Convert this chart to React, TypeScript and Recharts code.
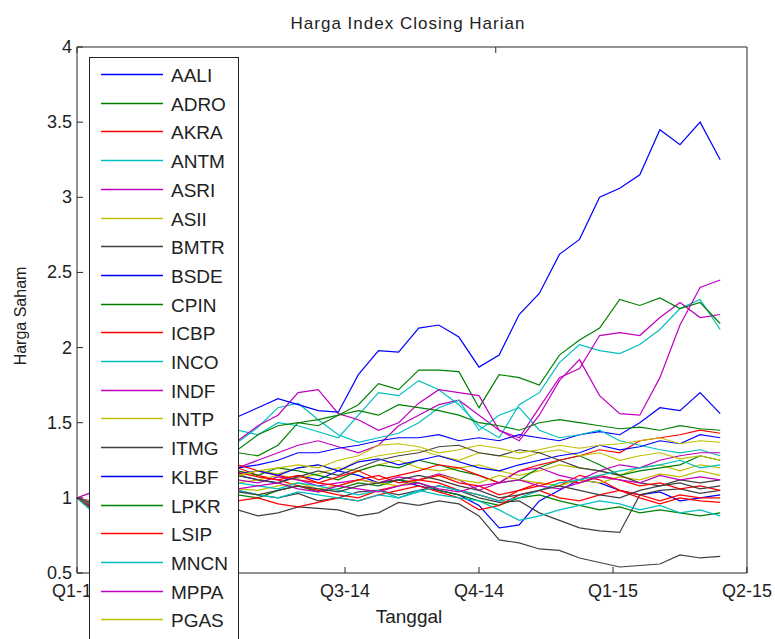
import { LineChart, Line, XAxis, YAxis } from 'recharts'

// trading-day index (quarter = 20 units), sampled every 3 units
const xDays = [0, 3, 6, 9, 12, 15, 18, 21, 24, 27, 30, 33, 36, 39, 42, 45, 48, 51, 54, 57, 60, 63, 66, 69, 72, 75, 78, 81, 84, 87, 90, 93, 96]
const quarterTicks = [0, 20, 40, 60, 80, 100]
// Q2-14 sits under the legend box in the original, so no text is drawn for it
const quarterLabels = ['Q1-14', '', 'Q3-14', 'Q4-14', 'Q1-15', 'Q2-15']
const priceTicks = [0.5, 1, 1.5, 2, 2.5, 3, 3.5, 4]

const AALI = [1.00, 0.90, 0.98, 1.04, 1.08, 1.12, 1.14, 1.15, 1.15, 1.12, 1.10, 1.15, 1.12, 1.18, 1.15, 1.10, 1.12, 1.08, 1.05, 1.02, 0.95, 0.80, 0.82, 0.98, 1.05, 1.12, 1.10, 1.05, 1.02, 1.04, 0.98, 1.00, 1.02]
const ADRO = [1.00, 0.92, 0.96, 1.00, 1.04, 1.06, 1.05, 1.04, 1.02, 1.00, 1.05, 1.08, 1.04, 1.06, 1.10, 1.08, 1.12, 1.10, 1.05, 1.02, 0.98, 0.95, 1.00, 1.02, 0.98, 0.95, 0.92, 0.94, 0.90, 0.92, 0.90, 0.88, 0.90]
const AKRA = [1.00, 0.92, 0.98, 1.05, 1.10, 1.14, 1.16, 1.18, 1.20, 1.15, 1.12, 1.08, 1.05, 1.02, 1.00, 1.05, 1.08, 1.12, 1.10, 1.05, 1.02, 0.98, 1.05, 1.10, 1.08, 1.15, 1.12, 1.05, 1.02, 0.98, 1.02, 1.00, 1.00]
const ANTM = [1.00, 0.90, 0.98, 1.08, 1.18, 1.28, 1.36, 1.42, 1.45, 1.42, 1.50, 1.48, 1.44, 1.40, 1.55, 1.70, 1.68, 1.78, 1.72, 1.62, 1.48, 1.40, 1.62, 1.70, 1.90, 2.02, 1.98, 1.96, 2.02, 2.12, 2.26, 2.32, 2.12]
const ASRI = [1.00, 0.92, 0.98, 1.04, 1.10, 1.14, 1.17, 1.19, 1.20, 1.25, 1.30, 1.35, 1.38, 1.34, 1.30, 1.35, 1.48, 1.55, 1.62, 1.65, 1.55, 1.45, 1.40, 1.60, 1.80, 1.86, 2.08, 2.10, 2.08, 2.20, 2.30, 2.20, 2.22]
const ASII = [1.00, 0.94, 0.99, 1.04, 1.08, 1.10, 1.12, 1.12, 1.10, 1.12, 1.15, 1.13, 1.16, 1.20, 1.18, 1.22, 1.25, 1.20, 1.18, 1.20, 1.22, 1.18, 1.15, 1.18, 1.22, 1.20, 1.18, 1.15, 1.20, 1.22, 1.18, 1.22, 1.20]
const BMTR = [1.00, 0.94, 0.98, 1.02, 1.05, 1.06, 1.04, 1.05, 1.05, 1.02, 1.00, 1.03, 0.98, 1.00, 1.04, 1.05, 1.02, 1.05, 1.08, 1.05, 1.00, 0.97, 0.98, 0.90, 0.85, 0.80, 0.78, 0.77, 1.02, 1.05, 1.06, 1.03, 1.05]
const BSDE = [1.00, 0.96, 1.02, 1.06, 1.10, 1.13, 1.16, 1.18, 1.20, 1.22, 1.25, 1.30, 1.30, 1.33, 1.35, 1.38, 1.40, 1.40, 1.42, 1.38, 1.40, 1.38, 1.42, 1.40, 1.38, 1.42, 1.44, 1.42, 1.50, 1.60, 1.58, 1.70, 1.56]
const CPIN = [1.00, 0.95, 1.00, 1.06, 1.10, 1.12, 1.15, 1.16, 1.18, 1.15, 1.20, 1.18, 1.15, 1.12, 1.18, 1.22, 1.20, 1.25, 1.22, 1.18, 1.15, 1.10, 1.12, 1.20, 1.25, 1.28, 1.22, 1.15, 1.18, 1.20, 1.22, 1.28, 1.25]
const ICBP = [1.00, 0.96, 1.02, 1.08, 1.12, 1.15, 1.18, 1.20, 1.22, 1.18, 1.15, 1.12, 1.10, 1.14, 1.18, 1.12, 1.15, 1.18, 1.22, 1.20, 1.15, 1.10, 1.18, 1.22, 1.25, 1.28, 1.32, 1.30, 1.38, 1.40, 1.42, 1.45, 1.43]
const INCO = [1.00, 0.88, 0.96, 1.05, 1.14, 1.22, 1.28, 1.33, 1.37, 1.47, 1.60, 1.63, 1.52, 1.42, 1.37, 1.40, 1.43, 1.50, 1.60, 1.65, 1.45, 1.55, 1.60, 1.45, 1.40, 1.42, 1.45, 1.38, 1.35, 1.32, 1.30, 1.32, 1.28]
const INDF = [1.00, 0.96, 1.00, 1.05, 1.08, 1.10, 1.12, 1.14, 1.12, 1.10, 1.14, 1.12, 1.08, 1.10, 1.12, 1.10, 1.14, 1.12, 1.16, 1.12, 1.05, 1.10, 1.18, 1.20, 1.15, 1.12, 1.18, 1.22, 1.20, 1.25, 1.28, 1.30, 1.30]
const INTP = [1.00, 0.95, 1.00, 1.05, 1.10, 1.14, 1.16, 1.15, 1.14, 1.18, 1.16, 1.20, 1.22, 1.18, 1.25, 1.28, 1.30, 1.32, 1.28, 1.25, 1.30, 1.28, 1.26, 1.30, 1.32, 1.28, 1.30, 1.25, 1.28, 1.30, 1.26, 1.28, 1.25]
const ITMG = [1.00, 0.92, 0.95, 0.98, 1.00, 0.97, 0.95, 0.93, 0.92, 0.88, 0.90, 0.94, 0.93, 0.92, 0.88, 0.90, 0.97, 0.95, 0.98, 0.96, 0.88, 0.72, 0.70, 0.66, 0.65, 0.60, 0.57, 0.54, 0.55, 0.56, 0.62, 0.60, 0.61]
const KLBF = [1.00, 0.95, 1.00, 1.05, 1.08, 1.10, 1.12, 1.14, 1.16, 1.18, 1.15, 1.20, 1.22, 1.18, 1.24, 1.26, 1.22, 1.25, 1.28, 1.24, 1.20, 1.18, 1.22, 1.25, 1.28, 1.30, 1.35, 1.32, 1.34, 1.38, 1.36, 1.42, 1.40]
const LPKR = [1.00, 0.93, 1.00, 1.08, 1.15, 1.22, 1.28, 1.32, 1.30, 1.28, 1.35, 1.50, 1.52, 1.55, 1.62, 1.76, 1.72, 1.85, 1.85, 1.84, 1.60, 1.82, 1.80, 1.75, 1.95, 2.05, 2.13, 2.32, 2.28, 2.33, 2.26, 2.30, 2.16]
const LSIP = [1.00, 0.90, 0.95, 1.00, 1.02, 1.04, 1.02, 1.00, 0.98, 1.00, 0.96, 0.94, 0.97, 1.00, 0.98, 1.02, 1.05, 1.08, 1.04, 1.00, 0.92, 0.95, 1.02, 1.05, 1.00, 0.98, 1.02, 1.05, 1.00, 0.96, 1.00, 0.98, 0.97]
const MNCN = [1.00, 0.88, 0.94, 1.00, 1.04, 1.06, 1.08, 1.06, 1.05, 1.02, 1.00, 1.04, 1.02, 1.00, 0.98, 1.02, 1.00, 1.05, 1.02, 1.00, 0.98, 0.92, 0.85, 0.88, 0.92, 0.95, 0.98, 0.96, 0.92, 0.95, 0.90, 0.92, 0.88]
const MPPA = [1.00, 1.05, 1.12, 1.20, 1.25, 1.30, 1.34, 1.36, 1.38, 1.48, 1.55, 1.70, 1.72, 1.56, 1.52, 1.45, 1.50, 1.63, 1.72, 1.70, 1.68, 1.45, 1.38, 1.55, 1.78, 1.92, 1.68, 1.56, 1.55, 1.80, 2.15, 2.40, 2.45]
const PGAS = [1.00, 0.93, 0.98, 1.02, 1.06, 1.08, 1.10, 1.08, 1.06, 1.05, 1.08, 1.10, 1.06, 1.08, 1.12, 1.10, 1.08, 1.12, 1.15, 1.12, 1.10, 1.15, 1.12, 1.10, 1.08, 1.12, 1.10, 1.14, 1.12, 1.16, 1.14, 1.18, 1.15]
const PTBA = [1.00, 0.92, 0.98, 1.04, 1.08, 1.10, 1.12, 1.14, 1.15, 1.12, 1.10, 1.14, 1.18, 1.15, 1.20, 1.25, 1.28, 1.30, 1.34, 1.35, 1.30, 1.28, 1.32, 1.30, 1.25, 1.20, 1.18, 1.15, 1.10, 1.08, 1.12, 1.10, 1.12]
const PTPP = [1.00, 0.95, 1.05, 1.15, 1.24, 1.33, 1.42, 1.48, 1.54, 1.60, 1.66, 1.62, 1.58, 1.57, 1.82, 1.98, 1.97, 2.13, 2.15, 2.07, 1.87, 1.95, 2.22, 2.36, 2.62, 2.72, 3.00, 3.06, 3.15, 3.45, 3.35, 3.50, 3.25]
const SMGR = [1.00, 0.94, 1.02, 1.10, 1.18, 1.24, 1.28, 1.30, 1.32, 1.42, 1.48, 1.50, 1.48, 1.55, 1.58, 1.55, 1.62, 1.60, 1.58, 1.55, 1.50, 1.48, 1.45, 1.50, 1.52, 1.50, 1.48, 1.46, 1.47, 1.45, 1.48, 1.46, 1.45]
const TLKM = [1.00, 0.93, 0.98, 1.04, 1.08, 1.12, 1.14, 1.15, 1.17, 1.14, 1.12, 1.15, 1.10, 1.08, 1.12, 1.15, 1.10, 1.12, 1.15, 1.10, 1.08, 1.02, 1.05, 1.08, 1.12, 1.10, 1.15, 1.12, 1.08, 1.10, 1.06, 1.08, 1.05]
const UNTR = [1.00, 0.94, 0.98, 1.02, 1.05, 1.08, 1.10, 1.12, 1.10, 1.08, 1.06, 1.10, 1.08, 1.05, 1.02, 1.05, 1.00, 1.04, 1.08, 1.05, 1.02, 0.98, 1.00, 1.05, 1.10, 1.12, 1.15, 1.18, 1.20, 1.22, 1.25, 1.20, 1.22]
const UNVR = [1.00, 0.97, 1.02, 1.06, 1.08, 1.10, 1.09, 1.08, 1.06, 1.08, 1.10, 1.06, 1.04, 1.08, 1.06, 1.04, 1.08, 1.10, 1.06, 1.04, 1.08, 1.10, 1.12, 1.08, 1.06, 1.10, 1.14, 1.12, 1.10, 1.15, 1.12, 1.14, 1.12]
const WIKA = [1.00, 0.96, 1.02, 1.08, 1.12, 1.15, 1.16, 1.18, 1.15, 1.18, 1.20, 1.22, 1.20, 1.25, 1.28, 1.35, 1.36, 1.34, 1.30, 1.32, 1.35, 1.33, 1.30, 1.32, 1.35, 1.33, 1.35, 1.36, 1.38, 1.40, 1.36, 1.38, 1.37]
const JSMR = [1.00, 0.95, 1.00, 1.04, 1.06, 1.08, 1.06, 1.05, 1.04, 1.02, 1.05, 1.08, 1.06, 1.04, 1.08, 1.10, 1.12, 1.15, 1.12, 1.08, 1.05, 1.00, 1.02, 1.05, 1.08, 1.05, 1.02, 1.00, 1.05, 1.08, 1.10, 1.06, 1.08]

const series = [
  { name: 'AALI', values: AALI }, { name: 'ADRO', values: ADRO }, { name: 'AKRA', values: AKRA },
  { name: 'ANTM', values: ANTM }, { name: 'ASRI', values: ASRI }, { name: 'ASII', values: ASII },
  { name: 'BMTR', values: BMTR }, { name: 'BSDE', values: BSDE }, { name: 'CPIN', values: CPIN },
  { name: 'ICBP', values: ICBP }, { name: 'INCO', values: INCO }, { name: 'INDF', values: INDF },
  { name: 'INTP', values: INTP }, { name: 'ITMG', values: ITMG }, { name: 'KLBF', values: KLBF },
  { name: 'LPKR', values: LPKR }, { name: 'LSIP', values: LSIP }, { name: 'MNCN', values: MNCN },
  { name: 'MPPA', values: MPPA }, { name: 'PGAS', values: PGAS }, { name: 'PTBA', values: PTBA },
  { name: 'PTPP', values: PTPP }, { name: 'SMGR', values: SMGR }, { name: 'TLKM', values: TLKM },
  { name: 'UNTR', values: UNTR }, { name: 'UNVR', values: UNVR }, { name: 'WIKA', values: WIKA },
  { name: 'JSMR', values: JSMR },
]

// matlab default color order
const colorCycle = ['#0000ff', '#008000', '#ff0000', '#00bfbf', '#bf00bf', '#bfbf00', '#404040']
const axisColor = '#262626'
const font = '"Liberation Sans", Arial, sans-serif'

// the legend box runs off the bottom of the figure; only the first 20 rows fit
const legendRows = series.slice(0, 20)

const rows = xDays.map((x, i) => {
  const row: Record<string, number> = { x }
  series.forEach((s) => {
    row[s.name] = s.values[i]
  })
  return row
})

const LeftTick = (props: any) => {
  const { x, y, payload } = props
  return (
    <g>
      <line x1={x} x2={x + 6} y1={y} y2={y} stroke={axisColor} />
      <text x={x - 5} y={y + 6} textAnchor="end" fontSize={18} fontFamily={font} fill="#222">
        {String(payload.value)}
      </text>
    </g>
  )
}

const RightTick = (props: any) => {
  const { x, y } = props
  return <line x1={x} x2={x - 6} y1={y} y2={y} stroke={axisColor} />
}

const BottomTick = (props: any) => {
  const { x, y, payload } = props
  const label = quarterLabels[quarterTicks.indexOf(payload.value)]
  return (
    <g>
      <line x1={x} x2={x} y1={y} y2={y - 6} stroke={axisColor} />
      {label && (
        <text x={x} y={y + 24} textAnchor="middle" fontSize={18} fontFamily={font} fill="#222">
          {label}
        </text>
      )}
    </g>
  )
}

const TopTick = (props: any) => {
  const { x, y } = props
  return <line x1={x} x2={x} y1={y} y2={y + 6} stroke={axisColor} />
}

const LegendBox = () => (
  <svg
    width={150}
    height={600}
    style={{ position: 'absolute', left: 89, top: 57, background: '#fff' }}
  >
    <rect x={0.5} y={0.5} width={149} height={620} fill="#fff" stroke={axisColor} />
    {legendRows.map((s, i) => {
      const cy = Math.round(17 + i * 28.7) + 0.5
      return (
        <g key={s.name}>
          <line x1={12} x2={74} y1={cy} y2={cy} stroke={colorCycle[i % 7]} strokeWidth={1.3} />
          <text x={82} y={cy + 7} fontSize={19} fontFamily={font} fill="#222">
            {s.name}
          </text>
        </g>
      )
    })}
  </svg>
)

export default function App() {
  return (
    <div
      style={{
        position: 'absolute',
        left: 0,
        top: 0,
        width: 775,
        height: 639,
        overflow: 'hidden',
        background: '#fff',
      }}
    >
      <LineChart width={775} height={639} data={rows} margin={{ top: 0, right: 0, bottom: 0, left: 0 }}>
        <XAxis
          dataKey="x"
          type="number"
          domain={[0, 100]}
          ticks={quarterTicks}
          interval={0}
          height={66}
          tickSize={0}
          tickMargin={0}
          tickLine={false}
          axisLine={{ stroke: axisColor }}
          tick={<BottomTick />}
        />
        <XAxis
          xAxisId="top"
          orientation="top"
          type="number"
          domain={[0, 100]}
          ticks={quarterTicks}
          interval={0}
          height={47}
          tickSize={0}
          tickMargin={0}
          tickLine={false}
          axisLine={{ stroke: axisColor }}
          tick={<TopTick />}
        />
        <YAxis
          type="number"
          domain={[0.5, 4]}
          ticks={priceTicks}
          interval={0}
          width={77}
          tickSize={0}
          tickMargin={0}
          tickLine={false}
          axisLine={{ stroke: axisColor }}
          tick={<LeftTick />}
        />
        <YAxis
          yAxisId="right"
          orientation="right"
          type="number"
          domain={[0.5, 4]}
          ticks={priceTicks}
          interval={0}
          width={28}
          tickSize={0}
          tickMargin={0}
          tickLine={false}
          axisLine={{ stroke: axisColor }}
          tick={<RightTick />}
        />
        {series.map((s, i) => (
          <Line
            key={s.name}
            type="linear"
            dataKey={s.name}
            stroke={colorCycle[i % 7]}
            strokeWidth={1.2}
            dot={false}
            isAnimationActive={false}
          />
        ))}
      </LineChart>
      <svg
        width={775}
        height={639}
        style={{ position: 'absolute', left: 0, top: 0, pointerEvents: 'none' }}
      >
        <text x={408} y={29} textAnchor="middle" fontSize={17} letterSpacing={1} fontFamily={font} fill="#222">
          Harga Index Closing Harian
        </text>
        <text x={409} y={623} textAnchor="middle" fontSize={19} fontFamily={font} fill="#222">
          Tanggal
        </text>
        <text
          x={26}
          y={316}
          textAnchor="middle"
          fontSize={16}
          fontFamily={font}
          fill="#222"
          transform="rotate(-90 26 316)"
        >
          Harga Saham
        </text>
      </svg>
      <LegendBox />
    </div>
  )
}
